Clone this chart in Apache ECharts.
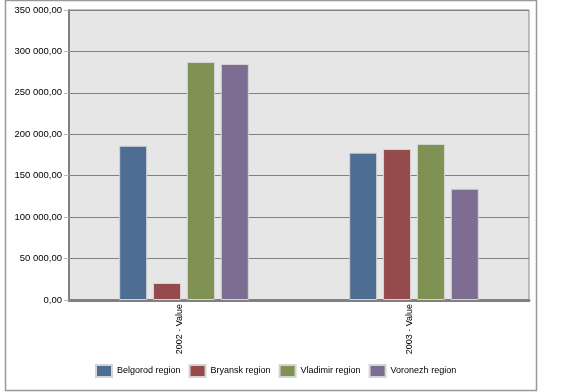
<!DOCTYPE html>
<html><head><meta charset="utf-8">
<script src="https://cdn.jsdelivr.net/npm/echarts@6/dist/echarts.min.js"></script>
<style>html,body{margin:0;padding:0;background:#fff}#c{width:562px;height:392px}</style>
</head><body><div id="c"></div>
<script>
const categories = ['2002 · Value', '2003 · Value'];
const seriesNames = ['Belgorod region', 'Bryansk region', 'Vladimir region', 'Voronezh region'];
const belgorod = [186200, 177800];
const bryansk = [20500, 182200];
const vladimir = [287200, 188300];
const voronezh = [284800, 134300];
const colors = ['#4E6D92', '#954B4B', '#7F9153', '#7D6D93'];
const values = [belgorod, bryansk, vladimir, voronezh];

function fmt(v){
  const s = Math.round(v).toString().replace(/\B(?=(\d{3})+(?!\d))/g, ' ');
  return s + ',00';
}
const FF = 'Liberation Sans, Arial, sans-serif';

const chart = echarts.init(document.getElementById('c'), null, {renderer:'canvas'});
chart.setOption({
  animation: false,
  backgroundColor: '#fff',
  textStyle: {fontFamily: FF},
  graphic: [{
    type: 'rect', shape: {x: 5.5, y: 0.5, width: 531, height: 390},
    style: {fill: 'none', stroke: '#999', lineWidth: 1.5}, silent: true, z: -10
  }],
  grid: {left: 69, top: 10, width: 460, height: 290, show: true, backgroundColor: '#E6E6E6', borderColor: '#888', borderWidth: 1},
  legend: {
    top: 364, left: 95, padding: 0, itemWidth: 16, itemHeight: 12, itemGap: 8,
    icon: 'rect',
    textStyle: {fontSize: 9, color: '#000', fontFamily: FF},
    data: seriesNames
  },
  xAxis: {
    type: 'category', data: categories,
    axisLine: {lineStyle: {color: '#808080', width: 3}},
    axisTick: {alignWithLabel: true, length: 3, lineStyle: {color: '#bbb'}},
    axisLabel: {rotate: 90, fontSize: 9, color: '#000', margin: 4, verticalAlign: 'bottom', fontFamily: FF},
    splitLine: {show: false}
  },
  yAxis: {
    type: 'value', min: 0, max: 350000, interval: 50000,
    axisLine: {show: true, lineStyle: {color: '#808080', width: 2}},
    axisTick: {show: true, length: 5, lineStyle: {color: '#bbb'}},
    axisLabel: {formatter: fmt, fontSize: 9.5, color: '#000', margin: 7, fontFamily: FF},
    splitLine: {lineStyle: {color: '#808080', width: 1}}
  },
  series: seriesNames.map((n, i) => ({
    name: n, type: 'bar', data: values[i], barWidth: 28, barGap: '21%',
    itemStyle: {color: colors[i], borderColor: '#d4d4d4', borderWidth: 1}
  }))
});
</script></body></html>
